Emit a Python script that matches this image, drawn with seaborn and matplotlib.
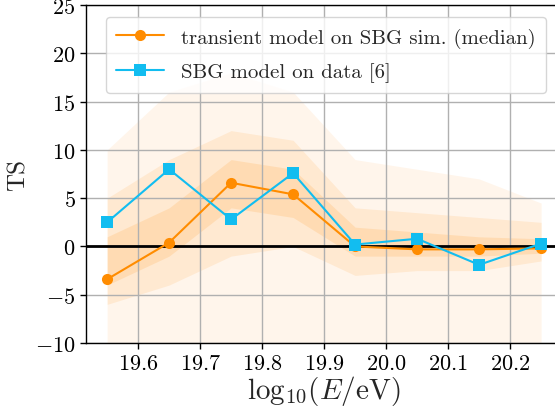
import numpy as np
import pandas as pd
import matplotlib
matplotlib.use("Agg")
import matplotlib.pyplot as plt
import seaborn as sns

# ---- data ----
log_e = [19.55, 19.65, 19.75, 19.85, 19.95, 20.05, 20.15, 20.25]
ts_transient_median = [-3.4, 0.4, 6.6, 5.4, 0.0, -0.3, -0.3, -0.2]
ts_sbg_data = [2.5, 8.0, 2.8, 7.6, 0.2, 0.8, -1.9, 0.3]

# spread of the simulated realisations (envelopes)
sim_outer_low = [-11, -11, -11, -11, -11, -11, -11, -11]
sim_outer_high = [10, 16, 18, 16, 9, 8, 7, 4.5]
sim_mid_low = [-6, -4, -1, 0, -3, -2.5, -2.5, -1.5]
sim_mid_high = [5, 9, 12, 11, 4, 3.5, 3, 2.5]
sim_inner_low = [-4, -1, 4, 3, -1, -1, -1, -0.7]
sim_inner_high = [1, 4, 9, 8, 2, 1.5, 1, 0.8]

xticks = [19.6, 19.7, 19.8, 19.9, 20.0, 20.1, 20.2]
yticks = [-10, -5, 0, 5, 10, 15, 20, 25]

sns.set_style("ticks", {"axes.grid": True, "grid.color": "#b0b0b0"})
plt.rcParams.update({
    "font.family": "serif",
    "font.serif": ["cmr10", "DejaVu Serif"],
    "mathtext.fontset": "cm",
    "axes.formatter.use_mathtext": True,
    "font.size": 16,
    "axes.edgecolor": "black",
    "axes.linewidth": 1.0,
    "xtick.color": "black",
    "ytick.color": "black",
})

fig = plt.figure(figsize=(5.55, 4.10), dpi=100)
ax = fig.add_axes([0.155, 0.161, 0.858, 0.824])

orange = "#ff8c00"
blue = "#12bdf0"

ax.fill_between(log_e, sim_outer_low, sim_outer_high, color=orange, alpha=0.08, lw=0, zorder=0.3)
ax.fill_between(log_e, sim_mid_low, sim_mid_high, color=orange, alpha=0.11, lw=0, zorder=0.3)
ax.fill_between(log_e, sim_inner_low, sim_inner_high, color=orange, alpha=0.14, lw=0, zorder=0.3)

df = pd.DataFrame({"x": log_e, "med": ts_transient_median, "sbg": ts_sbg_data})
ax.axhline(0, color="black", lw=2, zorder=3)
sns.lineplot(data=df, x="x", y="med", ax=ax, color=orange, marker="o", markersize=8,
             markeredgewidth=0, lw=1.5, label="transient model on SBG sim. (median)", zorder=4)
sns.lineplot(data=df, x="x", y="sbg", ax=ax, color=blue, marker="s", markersize=8,
             markeredgewidth=0, lw=1.5, label="SBG model on data [6]", zorder=5)

ax.set_xlim(19.516, 20.284)
ax.set_ylim(-10, 25)
ax.set_xticks(xticks)
ax.set_yticks(yticks)
ax.set_xlabel(r"$\mathrm{log}_{10}(E/\mathrm{eV})$", fontsize=21, labelpad=0)
ax.set_ylabel("TS", fontsize=18, labelpad=4)
ax.tick_params(axis="both", labelsize=16, direction="out", length=4, width=1)
ax.grid(True, color="#b0b0b0", lw=1.0)
ax.set_axisbelow(True)

leg = ax.legend(loc="upper left", bbox_to_anchor=(0.042, 0.965), borderaxespad=0,
                fontsize=15, frameon=True, fancybox=True, framealpha=0.8,
                edgecolor="#cccccc", handlelength=2.3, borderpad=0.5,
                labelspacing=0.72, handletextpad=0.8)

fig.savefig("out.png", dpi=100)
